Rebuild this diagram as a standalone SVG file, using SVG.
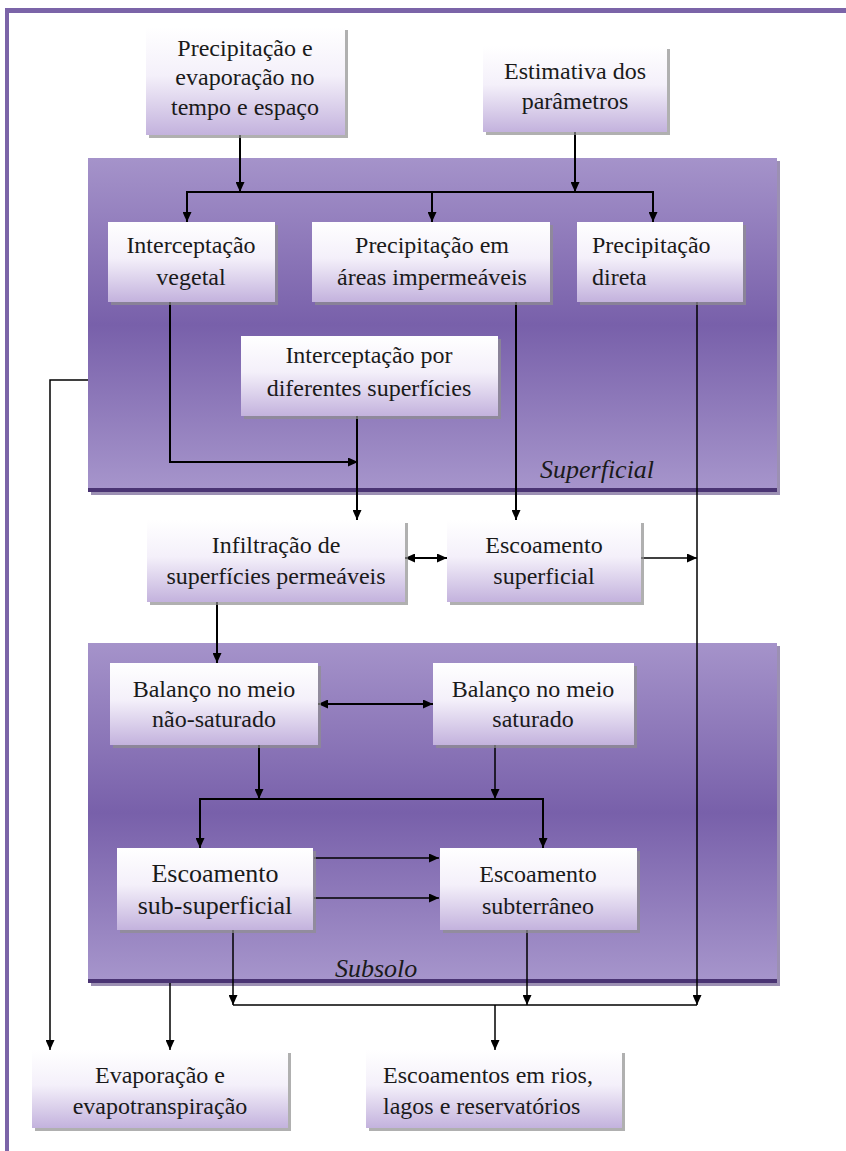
<svg xmlns="http://www.w3.org/2000/svg" width="846" height="1151" viewBox="0 0 846 1151">
<defs>
<linearGradient id="panelGrad" x1="0" y1="0" x2="0" y2="1">
<stop offset="0" stop-color="#A593CA"/>
<stop offset="0.5" stop-color="#7860AA"/>
<stop offset="1" stop-color="#A796CC"/>
</linearGradient>
<linearGradient id="nodeGrad" x1="0" y1="0" x2="0" y2="1">
<stop offset="0" stop-color="#FFFFFF"/>
<stop offset="0.45" stop-color="#F4F0FA"/>
<stop offset="1" stop-color="#C3B2DD"/>
</linearGradient>
<marker id="ah" viewBox="0 0 10 10" refX="10" refY="5" markerWidth="10" markerHeight="9" orient="auto-start-reverse" markerUnits="userSpaceOnUse" preserveAspectRatio="none">
<path d="M0,0 L10,5 L0,10 z" fill="#000"/>
</marker>
</defs>
<style>
.node rect.bg{fill:url(#nodeGrad);}
.node rect.sh{fill:#8f8f8f;opacity:0.7;}
.t{font-size:24px;fill:#1a1a1a;}
.c{text-anchor:middle;}
.big{font-size:26px;}
.lbl{font-size:26px;font-style:italic;fill:#1a1a1a;}
.ln{fill:none;stroke:#000;stroke-width:2;}
.thin{stroke-width:1.5;}
</style>
<rect x="0" y="0" width="846" height="1151" fill="#fff"/>
<g id="frame">
<rect x="5" y="8" width="841" height="5" fill="#7B64A8"/>
<rect x="5" y="8" width="4" height="1143" fill="#7B64A8"/>
</g>
<g font-family="Liberation Serif, DejaVu Serif, Times New Roman, serif">
<g id="panel-superficial">
<rect x="91" y="161" width="689" height="334" fill="#5a4680" opacity="0.6"/>
<rect x="88" y="158" width="689" height="334" fill="url(#panelGrad)"/>
<rect x="88" y="488" width="689" height="4" fill="#4A3473"/>
<text class="lbl" x="540" y="478">Superficial</text>
</g>
<g id="panel-subsolo">
<rect x="91" y="646" width="689" height="340" fill="#5a4680" opacity="0.6"/>
<rect x="88" y="643" width="689" height="340" fill="url(#panelGrad)"/>
<rect x="88" y="979" width="689" height="4" fill="#4A3473"/>
<text class="lbl" x="335" y="977">Subsolo</text>
</g>
<g id="connectors">
<path class="ln" d="M240 135 V192" marker-end="url(#ah)"/>
<path class="ln" d="M575 132 V192" marker-end="url(#ah)"/>
<path class="ln" d="M186 192 H654"/>
<path class="ln" d="M187 192 V222" marker-end="url(#ah)"/>
<path class="ln" d="M432 192 V222" marker-end="url(#ah)"/>
<path class="ln" d="M653 192 V222" marker-end="url(#ah)"/>
<path class="ln" d="M170 302 V462 H358" marker-end="url(#ah)"/>
<path class="ln" d="M357 416 V520" marker-end="url(#ah)"/>
<path class="ln" d="M516 302 V520" marker-end="url(#ah)"/>
<path class="ln thin" d="M697 302 V1005" marker-end="url(#ah)"/>
<path class="ln thin" d="M88 380 H50 V1050" marker-end="url(#ah)"/>
<path class="ln" d="M405 558 H447" marker-start="url(#ah)" marker-end="url(#ah)"/>
<path class="ln thin" d="M641 558 H697" marker-end="url(#ah)"/>
<path class="ln" d="M217 602 V663" marker-end="url(#ah)"/>
<path class="ln" d="M318 704 H433" marker-start="url(#ah)" marker-end="url(#ah)"/>
<path class="ln" d="M259 745 V799" marker-end="url(#ah)"/>
<path class="ln thin" d="M495 745 V799" marker-end="url(#ah)"/>
<path class="ln" d="M199 799 H544"/>
<path class="ln" d="M200 799 V848" marker-end="url(#ah)"/>
<path class="ln" d="M543 799 V848" marker-end="url(#ah)"/>
<path class="ln thin" d="M314 858 H439" marker-end="url(#ah)"/>
<path class="ln thin" d="M314 898 H439" marker-end="url(#ah)"/>
<path class="ln thin" d="M233 930 V1005" marker-end="url(#ah)"/>
<path class="ln thin" d="M527 930 V1005" marker-end="url(#ah)"/>
<path class="ln thin" d="M233 1005 H697"/>
<path class="ln thin" d="M495 1005 V1050" marker-end="url(#ah)"/>
<path class="ln thin" d="M170 983 V1050" marker-end="url(#ah)"/>
</g>
<g id="n-precip-evap" class="node">
<rect class="sh" x="149" y="30" width="199" height="108"/>
<rect class="bg" x="146" y="27" width="199" height="108"/>
<text class="t c" x="245" y="56">Precipitação e</text>
<text class="t c" x="245" y="85">evaporação no</text>
<text class="t c" x="245" y="115">tempo e espaço</text>
</g>
<g id="n-estimativa" class="node">
<rect class="sh" x="486" y="49" width="184" height="86"/>
<rect class="bg" x="483" y="46" width="184" height="86"/>
<text class="t c" x="575" y="79">Estimativa dos</text>
<text class="t c" x="575" y="109">parâmetros</text>
</g>
<g id="n-interc-vegetal" class="node">
<rect class="sh" x="111" y="225" width="167" height="80"/>
<rect class="bg" x="108" y="222" width="167" height="80"/>
<text class="t c" x="191" y="253">Interceptação</text>
<text class="t c" x="191" y="285">vegetal</text>
</g>
<g id="n-precip-areas" class="node">
<rect class="sh" x="315" y="225" width="238" height="80"/>
<rect class="bg" x="312" y="222" width="238" height="80"/>
<text class="t c" x="432" y="253">Precipitação em</text>
<text class="t c" x="432" y="285">áreas impermeáveis</text>
</g>
<g id="n-precip-direta" class="node">
<rect class="sh" x="580" y="225" width="166" height="80"/>
<rect class="bg" x="577" y="222" width="166" height="80"/>
<text class="t" x="592" y="253">Precipitação</text>
<text class="t" x="592" y="285">direta</text>
</g>
<g id="n-interc-superf" class="node">
<rect class="sh" x="244" y="339" width="257" height="80"/>
<rect class="bg" x="241" y="336" width="257" height="80"/>
<text class="t c" x="369" y="363">Interceptação por</text>
<text class="t c" x="369" y="396">diferentes superfícies</text>
</g>
<g id="n-infiltracao" class="node">
<rect class="sh" x="150" y="523" width="258" height="82"/>
<rect class="bg" x="147" y="520" width="258" height="82"/>
<text class="t c" x="276" y="553">Infiltração de</text>
<text class="t c" x="276" y="584">superfícies permeáveis</text>
</g>
<g id="n-esc-superficial" class="node">
<rect class="sh" x="450" y="523" width="194" height="82"/>
<rect class="bg" x="447" y="520" width="194" height="82"/>
<text class="t c" x="544" y="553">Escoamento</text>
<text class="t c" x="544" y="584">superficial</text>
</g>
<g id="n-bal-naosat" class="node">
<rect class="sh" x="113" y="666" width="208" height="82"/>
<rect class="bg" x="110" y="663" width="208" height="82"/>
<text class="t c" x="214" y="697">Balanço no meio</text>
<text class="t c" x="214" y="727">não-saturado</text>
</g>
<g id="n-bal-sat" class="node">
<rect class="sh" x="436" y="666" width="201" height="82"/>
<rect class="bg" x="433" y="663" width="201" height="82"/>
<text class="t c" x="533" y="697">Balanço no meio</text>
<text class="t c" x="533" y="727">saturado</text>
</g>
<g id="n-esc-subsuperficial" class="node">
<rect class="sh" x="120" y="851" width="196" height="82"/>
<rect class="bg" x="117" y="848" width="196" height="82"/>
<text class="t c big" x="215" y="882">Escoamento</text>
<text class="t c big" x="215" y="914">sub-superficial</text>
</g>
<g id="n-esc-subterraneo" class="node">
<rect class="sh" x="443" y="851" width="197" height="82"/>
<rect class="bg" x="440" y="848" width="197" height="82"/>
<text class="t c" x="538" y="882">Escoamento</text>
<text class="t c" x="538" y="914">subterrâneo</text>
</g>
<g id="n-evaporacao" class="node">
<rect class="sh" x="35" y="1053" width="256" height="78"/>
<rect class="bg" x="32" y="1050" width="256" height="78"/>
<text class="t c" x="160" y="1083">Evaporação e</text>
<text class="t c" x="160" y="1114">evapotranspiração</text>
</g>
<g id="n-escoamentos-rios" class="node">
<rect class="sh" x="369" y="1053" width="256" height="78"/>
<rect class="bg" x="366" y="1050" width="256" height="78"/>
<text class="t" x="383" y="1083">Escoamentos em rios,</text>
<text class="t" x="383" y="1114">lagos e reservatórios</text>
</g>
</g>
</svg>
